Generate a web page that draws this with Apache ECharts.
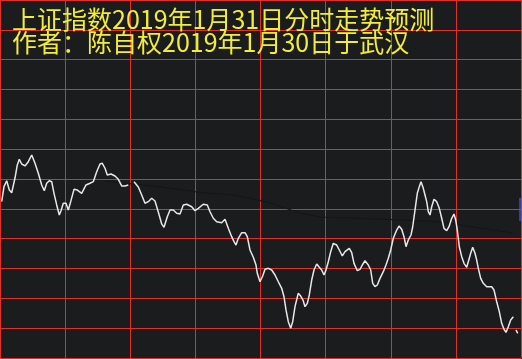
<!DOCTYPE html>
<html>
<head>
<meta charset="utf-8">
<script src="https://cdn.jsdelivr.net/npm/echarts@6/dist/echarts.min.js"></script>
<style>
html,body{margin:0;padding:0;background:#1b1c1e;}
#chart{width:522px;height:359px;}
</style>
</head>
<body>
<div id="chart"></div>
<script>
// Title lines
var titleLine1 = '上证指数2019年1月31日分时走势预测';
var titleLine2 = '作者：陈自权2019年1月30日于武汉';

// Time positions (chart units along the trading session, 0..521) of the forecast line
var priceTimes = [
  1.7,4,6.7,9.3,11.7,13.3,15,17.3,19.3,21.7,25,28.3,31.7,35,38.3,41.7,44.3,46.7,49.3,51.7,
  54,56.7,59.3,61,63.3,66,68.3,70.7,74,77.3,81.7,86,90,93.3,96.7,100,102.3,105,107.3,111,
  115,118.3,121.7,125,128.3,131,134,138.3,141.7,145,148.3,151.7,155,158.3,161.7,164,167.3,170,173.3,176.7,
  180,183.3,186.7,191.7,195,198.3,203.3,207.3,210,213.3,216.7,221.7,225,228.3,231.7,234,236,238.3,241.7,245,
  247.3,250,253.3,256,257.3,260,262.7,265,268.3,271.7,275,278.3,281.7,284,286,288.3,290.7,292.7,295,298.3,
  300.7,303,305,307.3,309.3,311.7,314,316.7,319.3,321.7,324,326,328.3,330.7,333.3,336.7,339.3,342.3,345,349.3,
  351.7,354,357.3,360,362.3,365,368.3,370.7,372.7,375,377.3,380,383.3,386,388.3,390.7,393.3,396.7,399,401.7,
  404,406,408.3,411,412.7,415,417.3,419.3,421,423.3,425,426.7,428.3,430,431.7,434,436.7,439.3,441.7,444,
  446.7,449,451.7,454,455.7,457.3,459.3,461.7,464,466.7,468.3,470.7,472.7,475,476.7,478.3,480.7,483.3,486.7,491.7,
  494,496.7,499.3,501.7,504,506,508.3,510.7,513.3,515,516,517.7
];
// Forecast index level (relative units, 0..360 scale); null = gap
var priceValues = [
  157.2,172.3,178.3,168.9,166.2,166.2,181.0,194.1,199.8,195.1,193.1,197.4,204.1,195.8,185.7,174.0,168.2,175.7,178.3,177.3,
  165.6,153.9,143.8,148.1,155.6,155.6,148.8,157.2,169.6,168.9,165.6,174.0,175.7,177.3,187.3,195.1,195.8,190.8,184.0,185.0,
  183.0,179.7,173.0,173.0,174.0,null,177.3,172.0,163.9,155.6,157.2,160.6,157.9,146.8,134.8,131.4,142.1,148.8,148.8,145.5,
  144.8,153.9,154.6,152.1,148.1,150.5,154.6,153.9,147.1,140.5,137.1,136.1,139.5,130.4,122.0,117.0,113.6,120.4,126.0,126.0,
  122.0,108.6,101.3,93.5,85.2,76.7,82.5,89.2,90.2,88.5,83.5,76.7,70.1,61.6,48.3,36.5,29.9,36.5,51.6,65.1,
  62.3,58.3,51.6,55.0,63.4,78.4,88.5,94.5,91.2,88.5,83.5,88.5,96.8,106.9,115.3,113.6,108.6,102.6,106.9,110.3,
  105.9,95.2,87.8,89.2,93.5,97.8,93.5,88.5,75.1,71.7,73.4,80.1,86.8,93.5,100.3,108.6,120.4,128.7,132.7,129.4,
  122.0,111.9,118.7,123.7,132.0,148.8,165.6,172.3,177.3,170.6,163.9,157.2,147.1,143.8,152.1,159.6,157.2,150.5,140.5,130.4,
  128.0,132.0,140.5,144.8,138.8,128.7,111.9,101.9,95.2,91.2,96.8,105.3,111.3,105.3,98.5,90.2,80.1,75.1,71.7,71.7,
  68.4,56.6,46.6,34.9,28.9,25.8,31.5,38.2,41.5,null,28.2,24.8
];

// Faint average line
var avgTimes = [105,123,160,197,233,267,300,320,350,400,440,480,513];
var avgValues = [178.0,176.0,172.0,166.9,163.9,156.9,145.8,141.8,140.8,138.8,136.8,130.7,125.7];

function pairs(xs, ys){ var out=[]; for(var i=0;i<xs.length;i++){ out.push([xs[i], ys[i]]); } return out; }

var chart = echarts.init(document.getElementById('chart'), null, {renderer:'canvas'});
chart.setOption({
  animation:false,
  backgroundColor:'#1b1c1e',
  title:[
    {text:titleLine1, left:12, top:6, padding:0,
     textStyle:{color:'#f2ec3c', fontSize:25, fontWeight:'normal', fontFamily:'Noto Sans CJK SC', lineHeight:26}},
    {text:titleLine2, left:12, top:29, padding:0,
     textStyle:{color:'#f2ec3c', fontSize:25, fontWeight:'normal', fontFamily:'Noto Sans CJK SC', lineHeight:26}}
  ],
  grid:{left:0, right:1, top:0, bottom:1, containLabel:false},
  xAxis:{type:'value', min:0, max:521, interval:65.125,
    axisLine:{show:false}, axisTick:{show:false}, axisLabel:{show:false},
    splitLine:{show:true, lineStyle:{color:'#e0302c', width:1}}},
  yAxis:{type:'value', min:0, max:360, interval:30,
    axisLine:{show:false}, axisTick:{show:false}, axisLabel:{show:false},
    splitLine:{show:true, lineStyle:{color:'#e0302c', width:1}}},
  graphic:[
    {type:'rect', right:0, top:198, shape:{width:3, height:23}, style:{fill:'#3c3c9c'}}
  ],
  series:[
    {type:'line', data:pairs(avgTimes, avgValues), showSymbol:false, symbol:'none',
     lineStyle:{color:'#151618', width:1.2}, z:1},
    {type:'line', data:pairs(priceTimes, priceValues), showSymbol:false, symbol:'none', connectNulls:false,
     lineStyle:{color:'#e8e8e8', width:1.5}, z:3}
  ]
});
</script>
</body>
</html>
